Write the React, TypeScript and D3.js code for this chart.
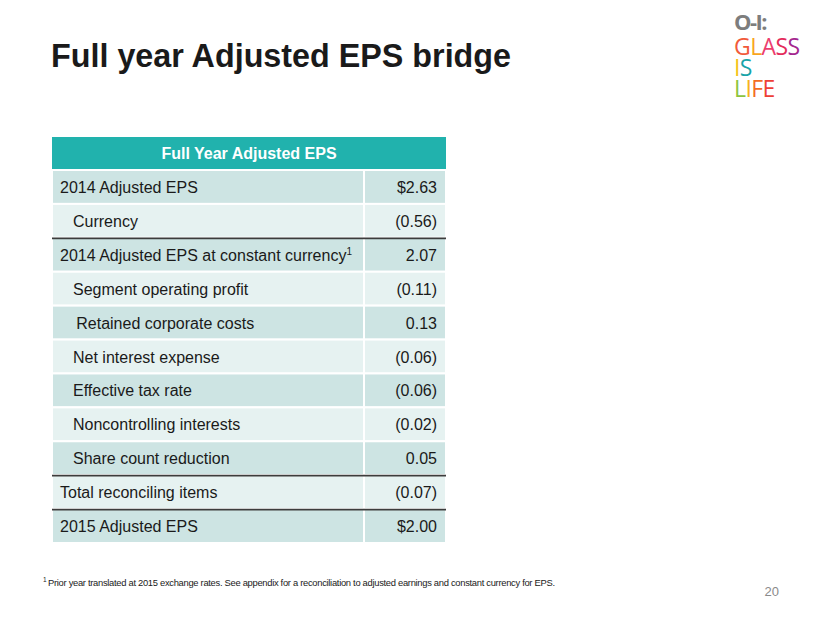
import React from "react";
import * as d3 from "d3";

const title = "Full year Adjusted EPS bridge";
const headerLabel = "Full Year Adjusted EPS";
const rowLabels = [
  "2014 Adjusted EPS",
  "Currency",
  "2014 Adjusted EPS at constant currency",
  "Segment operating profit",
  "Retained corporate costs",
  "Net interest expense",
  "Effective tax rate",
  "Noncontrolling interests",
  "Share count reduction",
  "Total reconciling items",
  "2015 Adjusted EPS",
];
const rowValues = ["$2.63", "(0.56)", "2.07", "(0.11)", "0.13", "(0.06)", "(0.06)", "(0.02)", "0.05", "(0.07)", "$2.00"];
const rowIndent = [0, 1, 0, 1, 1.25, 1, 1, 1, 1, 0, 0];
const rowSuperscript = ["", "", "1", "", "", "", "", "", "", "", ""];
const rowTopRule = [false, false, true, false, false, false, false, false, false, true, true];
const footnote =
  "Prior year translated at 2015 exchange rates. See appendix for a reconciliation to adjusted earnings and constant currency for EPS.";
const pageNumber = "20";

const logoLines: { ch: string; color: string }[][] = [
  [
    { ch: "G", color: "#F15A3A" },
    { ch: "L", color: "#F8A51D" },
    { ch: "A", color: "#EC3E6E" },
    { ch: "S", color: "#E42B5B" },
    { ch: "S", color: "#A4278F" },
  ],
  [
    { ch: "I", color: "#F5C316" },
    { ch: "S", color: "#19A4A8" },
  ],
  [
    { ch: "L", color: "#8CC43F" },
    { ch: "I", color: "#F7B21E" },
    { ch: "F", color: "#F36C23" },
    { ch: "E", color: "#EE4036" },
  ],
];
const logoBaselines = [55, 76, 97];

export default function App() {
  const W = 830;
  const H = 623;
  const x0 = 52;
  const x1 = 446;
  const xDiv = 364;
  const headerTop = 137;
  const headerBottom = 170;
  const y = d3
    .scaleBand<number>()
    .domain(d3.range(rowLabels.length))
    .range([170, 543])
    .padding(0);
  const bw = y.bandwidth();
  const font = "'Liberation Sans', Arial, Helvetica, sans-serif";

  return (
    <svg
      width={W}
      height={H}
      viewBox={`0 0 ${W} ${H}`}
      style={{ position: "absolute", left: 0, top: 0, background: "#ffffff" }}
      fontFamily={font}
    >
      <rect x={0} y={0} width={W} height={H} fill="#ffffff" />
      {/* Title */}
      <text x={51} y={67} fontSize={32.3} fontWeight="bold" fill="#1a1a1a">
        {title}
      </text>

      {/* Logo */}
      <g fontFamily="'Open Sans', 'DejaVu Sans', sans-serif">
        <text x={734} y={30} fontSize={22} fontWeight="bold" fill="#7d7d7d" letterSpacing={-1.5}>
          O-I:
        </text>
        {logoLines.map((line, li) => (
          <text
            key={li}
            x={734}
            y={logoBaselines[li]}
            fontSize={23}
            fontWeight={400}
            letterSpacing={-0.6}
          >
            {line.map((c, ci) => (
              <tspan key={ci} fill={c.color}>
                {c.ch}
              </tspan>
            ))}
          </text>
        ))}
      </g>

      {/* Header */}
      <rect x={x0} y={headerTop} width={x1 - x0} height={headerBottom - headerTop} fill="#21B2AD" />
      <text
        x={(x0 + x1) / 2}
        y={(headerTop + headerBottom) / 2 + 5.5}
        textAnchor="middle"
        fontSize={16}
        fontWeight="bold"
        fill="#ffffff"
      >
        {headerLabel}
      </text>

      {/* Rows */}
      {rowLabels.map((label, i) => {
        const top = y(i) as number;
        const fill = i % 2 === 0 ? "#CDE4E3" : "#E6F2F1";
        return (
          <g key={i}>
            <rect x={x0} y={top} width={x1 - x0} height={bw} fill={fill} stroke="#ffffff" strokeWidth={2} />
            <line x1={xDiv} x2={xDiv} y1={top} y2={top + bw} stroke="#ffffff" strokeWidth={2} />
            <text x={60 + rowIndent[i] * 13} y={top + bw / 2 + 6} fontSize={16} fill="#1a1a1a">
              {label}
              {rowSuperscript[i] && (
                <tspan fontSize={10} dy={-6}>
                  {rowSuperscript[i]}
                </tspan>
              )}
            </text>
            <text x={437} y={top + bw / 2 + 6} fontSize={16} fill="#1a1a1a" textAnchor="end">
              {rowValues[i]}
            </text>
          </g>
        );
      })}
      {rowLabels.map((_, i) =>
        rowTopRule[i] ? (
          <line
            key={"r" + i}
            x1={x0}
            x2={x1}
            y1={(y(i) as number) + 0.5}
            y2={(y(i) as number) + 0.5}
            stroke="#3c3c3c"
            strokeWidth={1.8}
          />
        ) : null
      )}

      {/* Footnote */}
      <text x={43} y={582} fontSize={6.5} fill="#1a1a1a">
        1
      </text>
      <text x={48} y={586} fontSize={9.4} fill="#1a1a1a" textLength={507} lengthAdjust="spacing">
        {footnote}
      </text>

      {/* Page number */}
      <text x={779} y={596} fontSize={13} fill="#8a8a8a" textAnchor="end">
        {pageNumber}
      </text>
    </svg>
  );
}
